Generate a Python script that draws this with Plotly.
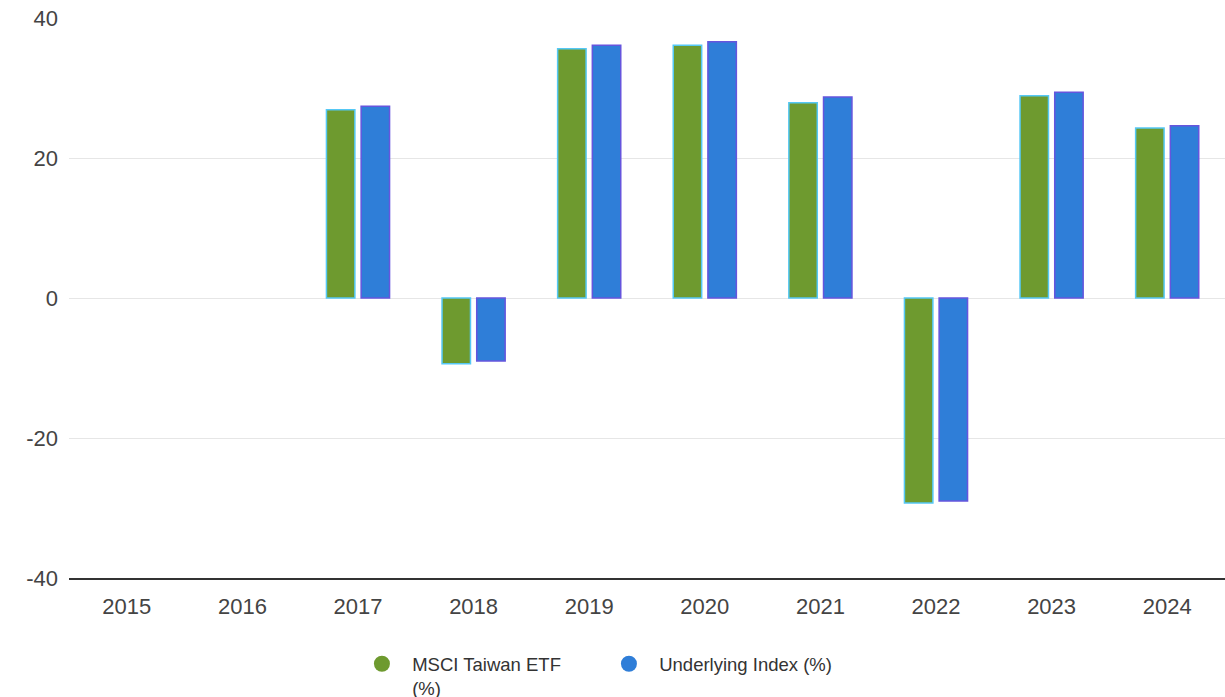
import plotly.graph_objects as go

years = ["2015", "2016", "2017", "2018", "2019", "2020", "2021", "2022", "2023", "2024"]
etf = [None, None, 26.9, -9.4, 35.6, 36.1, 27.9, -29.3, 28.9, 24.3]
index = [None, None, 27.4, -9.0, 36.1, 36.6, 28.7, -29.0, 29.4, 24.6]
etf_name = "\u00a0\u00a0MSCI Taiwan ETF<br>\u00a0\u00a0(%)"
index_name = "\u00a0\u00a0Underlying Index (%)"
ytick_vals = [-40, -20, 0, 20, 40]
ytick_text = ["-40", "-20", "0", "20", "40"]

green = "#6e9a2f"
blue = "#2f7ed8"

fig = go.Figure()
fig.add_trace(go.Bar(x=years, y=etf, name=etf_name, marker=dict(color=green, line=dict(color="#55c8f5", width=1.5)), showlegend=False))
fig.add_trace(go.Bar(x=years, y=index, name=index_name, marker=dict(color=blue, line=dict(color="#6655dd", width=1.5)), showlegend=False))
fig.add_trace(go.Scatter(x=[None], y=[None], mode="markers", name=etf_name, marker=dict(color=green, size=20, symbol="circle")))
fig.add_trace(go.Scatter(x=[None], y=[None], mode="markers", name=index_name, marker=dict(color=blue, size=20, symbol="circle")))

fig.update_layout(
    width=1225, height=740,
    margin=dict(l=69, r=0, t=18, b=162),
    plot_bgcolor="white", paper_bgcolor="white",
    barmode="group", bargap=0.4, bargroupgap=0.18,
    font=dict(family="Liberation Sans, Arial, sans-serif", size=22, color="#333333"),
    showlegend=True,
    legend=dict(orientation="h", x=0.2534, xanchor="left", y=-0.12, yanchor="top",
                font=dict(size=18.5, color="#333333"), valign="top",
                entrywidth=202, entrywidthmode="pixels"),
)
fig.update_xaxes(type="category", showgrid=False, showline=True, linecolor="#333333", linewidth=1.5,
                 ticks="", tickfont=dict(size=22, color="#444444"), ticklabelstandoff=8)
fig.update_yaxes(range=[-40, 40], tickvals=ytick_vals, ticktext=ytick_text, showgrid=True,
                 gridcolor="#e6e6e6", gridwidth=1,
                 zeroline=True, zerolinecolor="#e6e6e6", zerolinewidth=1, showline=False,
                 tickfont=dict(size=22, color="#444444"), ticklabelstandoff=10)

fig.write_html("out.html", config={"displayModeBar": False},
               post_script="document.body.style.margin='0';document.body.style.overflow='hidden';")
